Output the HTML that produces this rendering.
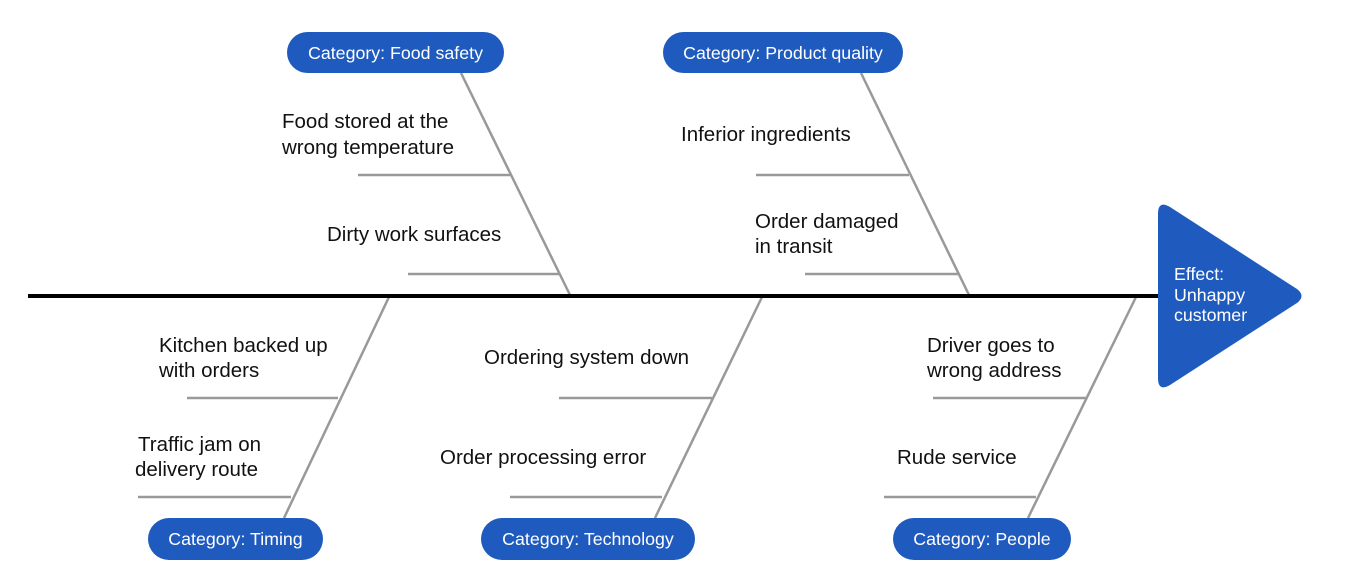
<!DOCTYPE html>
<html><head><meta charset="utf-8"><style>
body{margin:0;background:#fff;}
svg{display:block;font-family:"Liberation Sans",sans-serif;}
.t{font-size:20.5px;fill:#111;}
.p{font-size:17.8px;fill:#fff;}
.e{font-size:17.8px;fill:#fff;}
</style></head><body>
<svg width="1346" height="588" viewBox="0 0 1346 588">
<g stroke="#999" stroke-width="2.5" fill="none">
<line x1="461" y1="73" x2="570" y2="295"/>
<line x1="358" y1="175" x2="511" y2="175"/>
<line x1="408" y1="274" x2="559" y2="274"/>
<line x1="861" y1="73" x2="969" y2="295"/>
<line x1="756" y1="175" x2="909" y2="175"/>
<line x1="805" y1="274" x2="958" y2="274"/>
<line x1="389" y1="297" x2="284" y2="518"/>
<line x1="187" y1="398" x2="338" y2="398"/>
<line x1="138" y1="497" x2="291" y2="497"/>
<line x1="762" y1="297" x2="655" y2="518"/>
<line x1="559" y1="398" x2="712" y2="398"/>
<line x1="510" y1="497" x2="662" y2="497"/>
<line x1="1136" y1="297" x2="1028" y2="518"/>
<line x1="933" y1="398" x2="1086" y2="398"/>
<line x1="884" y1="497" x2="1036" y2="497"/>
</g>
<line x1="28" y1="296" x2="1160" y2="296" stroke="#000" stroke-width="4"/>
<path d="M1158,214 Q1158,200 1170,207 L1297,289 Q1306,296 1297,303 L1170,385 Q1158,392 1158,378 Z" fill="#1f5bbf"/>
<text class="e" x="1174" y="280">Effect:</text>
<text class="e" x="1174" y="301">Unhappy</text>
<text class="e" x="1174" y="321">customer</text>
<g fill="#1f5bbf">
<rect x="287" y="32" width="217" height="41" rx="20.5"/>
<rect x="663" y="32" width="240" height="41" rx="20.5"/>
<rect x="148" y="518" width="175" height="42" rx="21"/>
<rect x="481" y="518" width="214" height="42" rx="21"/>
<rect x="893" y="518" width="178" height="42" rx="21"/>
</g>
<g class="p" text-anchor="middle">
<text x="395.5" y="59">Category: Food safety</text>
<text x="783" y="59">Category: Product quality</text>
<text x="235.5" y="545">Category: Timing</text>
<text x="588" y="545">Category: Technology</text>
<text x="982" y="545">Category: People</text>
</g>
<g class="t">
<text x="282" y="128">Food stored at the</text>
<text x="282" y="154">wrong temperature</text>
<text x="327" y="241">Dirty work surfaces</text>
<text x="681" y="141">Inferior ingredients</text>
<text x="755" y="228">Order damaged</text>
<text x="755" y="253">in transit</text>
<text x="159" y="352">Kitchen backed up</text>
<text x="159" y="377">with orders</text>
<text x="138" y="451">Traffic jam on</text>
<text x="135" y="476">delivery route</text>
<text x="484" y="364">Ordering system down</text>
<text x="440" y="464">Order processing error</text>
<text x="927" y="352">Driver goes to</text>
<text x="927" y="377">wrong address</text>
<text x="897" y="464">Rude service</text>
</g>
</svg>
</body></html>
